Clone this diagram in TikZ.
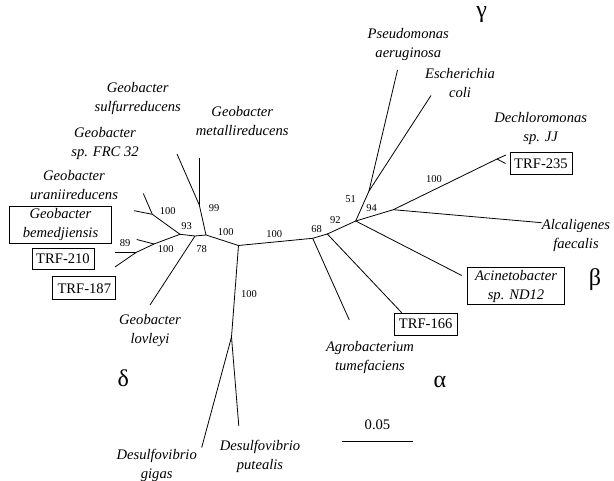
\documentclass[tikz,border=0pt]{standalone}
\usepackage{fontspec}
\setmainfont{Liberation Serif}
\newfontfamily\treefont{Liberation Serif}
\usetikzlibrary{positioning,calc}
\tikzset{
  tree/branch/.style={line width=0.8pt},
  tree/taxon/.style={font=\treefont\fontsize{14.6}{19}\selectfont\itshape, align=center, inner sep=0pt},
  tree/trf/.style={draw, line width=0.8pt, font=\treefont\fontsize{14.6}{19}\selectfont, minimum height=21pt, inner xsep=4pt, inner ysep=0pt},
  tree/boxtaxon/.style={tree/taxon, draw, line width=0.8pt, minimum height=37pt},
  tree/boot/.style={font=\treefont\fontsize{10.5}{12}\selectfont, inner sep=0pt},
  tree/clade/.style={font=\treefont\fontsize{24}{24}\selectfont, inner sep=0pt},
  tree/scalelabel/.style={font=\treefont\fontsize{14.6}{16}\selectfont, inner sep=0pt}
}

\begin{document}
\begin{tikzpicture}[x=1pt, y=-1pt]
  \useasboundingbox (0,0) rectangle (614,481);

  \coordinate (nA) at (180,234.3);
  \coordinate (n78) at (195,236);
  \coordinate (nB) at (206,235);
  \coordinate (nC) at (238.5,245.5);
  \coordinate (nD) at (152.3,214.3);
  \coordinate (nE) at (154,244);
  \coordinate (nF) at (136,252.5);
  \coordinate (n99) at (199.3,205);
  \coordinate (nG) at (312.7,238.3);
  \coordinate (nH) at (327.3,234);
  \coordinate (nI) at (355.7,221);
  \coordinate (nJ) at (369,191);
  \coordinate (nK) at (393.3,209.7);
  \coordinate (nL) at (497,159);
  \coordinate (nM) at (231.5,337);

  \coordinate (tUranA) at (143.3,193.5);
  \coordinate (tUranB) at (134,210.7);
  \coordinate (tBem) at (136.7,239.5);
  \coordinate (t210) at (115,252.5);
  \coordinate (t187) at (115,267);
  \coordinate (tLov) at (150,305);
  \coordinate (tFrc) at (177,154);
  \coordinate (tMet) at (199.3,158);
  \coordinate (tGig) at (201.7,447.5);
  \coordinate (tPut) at (238.8,426);
  \coordinate (tAgro) at (349.3,320);
  \coordinate (t166) at (401.7,312.7);
  \coordinate (tAcin) at (461.7,275.5);
  \coordinate (tAlc) at (541.7,222.7);
  \coordinate (tDech) at (506,155);
  \coordinate (t235) at (505.5,163.5);
  \coordinate (tPseu) at (397.5,70);
  \coordinate (tEsch) at (431,95.5);

  \draw[tree/branch] (nA) -- (n78) -- (nB) -- (nC) -- (nG) -- (nH) -- (nI);
  \draw[tree/branch] (nA) -- (nD);
  \draw[tree/branch] (nD) -- (tUranA);
  \draw[tree/branch] (nD) -- (tUranB);
  \draw[tree/branch] (nA) -- (nE);
  \draw[tree/branch] (nE) -- (tBem);
  \draw[tree/branch] (nE) -- (nF);
  \draw[tree/branch] (nF) -- (t210);
  \draw[tree/branch] (nF) -- (t187);
  \draw[tree/branch] (n78) -- (tLov);
  \draw[tree/branch] (nB) -- (n99);
  \draw[tree/branch] (n99) -- (tFrc);
  \draw[tree/branch] (n99) -- (tMet);
  \draw[tree/branch] (nC) -- (nM);
  \draw[tree/branch] (nM) -- (tGig);
  \draw[tree/branch] (nM) -- (tPut);
  \draw[tree/branch] (nG) -- (tAgro);
  \draw[tree/branch] (nH) -- (t166);
  \draw[tree/branch] (nI) -- (tAcin);
  \draw[tree/branch] (nI) -- (nJ);
  \draw[tree/branch] (nJ) -- (tPseu);
  \draw[tree/branch] (nJ) -- (tEsch);
  \draw[tree/branch] (nI) -- (nK);
  \draw[tree/branch] (nK) -- (tAlc);
  \draw[tree/branch] (nK) -- (nL) -- (tDech);
  \draw[tree/branch] (nL) -- (t235);

  \node[tree/taxon] (sulf) at (137.7,98.8) {Geobacter\\sulfurreducens};
  \node[tree/taxon] (metal) at (242.3,121.5) {Geobacter\\metallireducens};
  \node[tree/taxon] (frc) at (105,143) {Geobacter\\sp. FRC 32};
  \node[tree/taxon] (uran) at (74,185) {Geobacter\\uraniireducens};
  \node[tree/boxtaxon, minimum width=102pt] (bem) at (60.5,224.5) {Geobacter\\bemedjiensis};
  \node[tree/trf, minimum width=62pt] (trf210) at (63,259) {TRF-210};
  \node[tree/trf, minimum width=63pt, minimum height=23pt] (trf187) at (84.3,288.3) {TRF-187};
  \node[tree/taxon] (lov) at (150,331) {Geobacter\\lovleyi};
  \node[tree/taxon] (gigas) at (156.7,465) {Desulfovibrio\\gigas};
  \node[tree/taxon] (puteal) at (260,456.3) {Desulfovibrio\\putealis};
  \node[tree/taxon] (agro) at (370,357.7) {Agrobacterium\\tumefaciens};
  \node[tree/trf, minimum width=63pt, minimum height=22pt] (trf166) at (425.7,324) {TRF-166};
  \node[tree/boxtaxon, minimum width=97pt] (acin) at (516,286.3) {Acinetobacter\\sp. ND12};
  \node[tree/taxon] (alc) at (576,235.5) {Alcaligenes\\faecalis};
  \node[tree/trf, minimum width=62pt, minimum height=22pt] (trf235) at (541,163.5) {TRF-235};
  \node[tree/taxon] (dech) at (540.7,128.8) {Dechloromonas\\sp. JJ};
  \node[tree/taxon] (esch) at (460,83.3) {Escherichia\\coli};
  \node[tree/taxon] (pseu) at (408.3,44.7) {Pseudomonas\\aeruginosa};

  \node[tree/boot] (bUran) at (167.7,211) {100};
  \node[tree/boot] (bA) at (186.7,226) {93};
  \node[tree/boot] (bF) at (125,243) {89};
  \node[tree/boot] (bE) at (165.7,249.3) {100};
  \node[tree/boot] (b99) at (214,208.3) {99};
  \node[tree/boot] (bB) at (225.7,232.3) {100};
  \node[tree/boot] (b78) at (201.7,249) {78};
  \node[tree/boot] (bC) at (274.3,234.3) {100};
  \node[tree/boot] (bG) at (316.7,229) {68};
  \node[tree/boot] (bH) at (335.3,220) {92};
  \node[tree/boot] (bJ) at (350.7,199.3) {51};
  \node[tree/boot] (bK) at (371.7,208.3) {94};
  \node[tree/boot] (bL) at (434,179.3) {100};
  \node[tree/boot] (bM) at (249,294.3) {100};

  \node[tree/clade] (gamma) at (481.7,15) {γ};
  \node[tree/clade] (beta) at (595,280) {β};
  \node[tree/clade] (alpha) at (440,382) {α};
  \node[tree/clade] (delta) at (123.3,378.3) {δ};

  \coordinate (barL) at (341.7,441);
  \coordinate (barR) at (413.3,441);
  \draw[tree/branch] (barL) -- (barR);
  \node[tree/scalelabel, above=11pt] (barlbl) at ($(barL)!0.5!(barR)$) {0.05};
\end{tikzpicture}
\end{document}
